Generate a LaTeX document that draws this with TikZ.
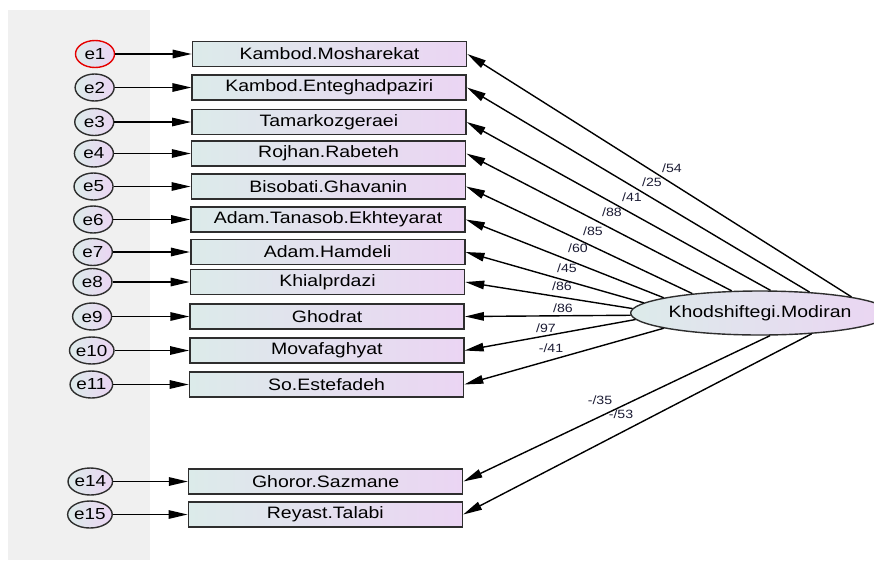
\documentclass[tikz,border=0pt]{standalone}
\usepackage{fontspec}
\setmainfont[FakeStretch=1.18]{Liberation Sans}
\usetikzlibrary{arrows.meta, shapes.geometric}
\definecolor{boxleft}{HTML}{DCEBEA}
\definecolor{boxright}{HTML}{EBD5F3}
\definecolor{panelgray}{HTML}{F0F0F0}
\definecolor{edgegray}{HTML}{2E2E2E}
\definecolor{coefcol}{HTML}{1C1C34}

\begin{document}
\begin{tikzpicture}[
    x=1pt, y=-1pt,
    indbox/.style={draw=edgegray, line width=1.6pt, minimum width=274pt,
                   minimum height=25pt, inner sep=0pt,
                   left color=boxleft, right color=boxright,
                   font=\fontsize{16.5}{18}\selectfont},
    errnode/.style={ellipse, line width=1.4pt, minimum width=39pt,
                    minimum height=27pt, inner sep=0pt,
                    left color=boxleft, right color=boxright,
                    font=\fontsize{16}{17}\selectfont},
    latnode/.style={ellipse, draw=edgegray, line width=1.4pt,
                    minimum width=250pt, minimum height=44pt, inner sep=0pt,
                    left color=boxleft, right color=boxright,
                    font=\fontsize{16.5}{18}\selectfont},
    coef/.style={font=\fontsize{12}{12}\selectfont, text=coefcol, inner sep=0pt},
    conn/.style={-{Triangle[length=19pt, width=8.5pt]}, line width=1.4pt}
  ]

  \useasboundingbox (0,0) rectangle (874,560);

  % ---- gray panel behind the error terms ----
  \fill[panelgray] (8,10) rectangle (150,560);

  % ---- latent variable ----
  \node[latnode] (lat) at (760,313) {Khodshiftegi.Modiran};

  % ---- indicators with their error terms ----
  \foreach \i/\y/\txt in {1/54/Kambod.Mosharekat, 2/87.5/Kambod.Enteghadpaziri,
      3/122/Tamarkozgeraei, 4/153.5/Rojhan.Rabeteh, 5/186.5/Bisobati.Ghavanin,
      6/219.5/Adam.Tanasob.Ekhteyarat, 7/252/Adam.Hamdeli, 8/282/Khialprdazi,
      9/316.5/Ghodrat, 10/350.5/Movafaghyat, 11/384.5/So.Estefadeh,
      14/481.5/Ghoror.Sazmane, 15/514.5/Reyast.Talabi} {
    \pgfmathsetmacro{\bx}{329.5-0.009*(\y-54)}
    \pgfmathsetmacro{\ex}{95-0.011*(\y-54)}
    \ifnum\i=1 \def\ecol{red!90!black}\else\def\ecol{edgegray}\fi
    \node[indbox] (ind\i) at (\bx,\y) {\txt};
    \node[errnode, draw=\ecol] (err\i) at (\ex,\y) {e\i};
    \draw[conn] (err\i) -- (ind\i);
  }

  % ---- loadings: latent -> indicators ----
  \foreach \i/\ang in {1/10.1, 2/23.5, 3/65.5, 4/142.6, 5/164.5, 6/171.8,
      7/175.7, 8/178.2, 9/181, 10/183, 11/189, 14/294.5, 15/338} {
    \draw[conn] (lat.\ang) -- (ind\i.east);
  }

  % ---- coefficient labels ----
  \foreach \i/\lx/\ly/\sgn/\val in {1/672/168/{}/54, 2/652/182/{}/25,
      3/632/197/{}/41, 4/612/212/{}/88, 5/593/231/{}/85, 6/578/248/{}/60,
      7/567/268/{}/45, 8/562/286/{}/86, 9/563/308/{}/86, 10/546/328/{}/97,
      11/551/348/-/41, 14/600/400/-/35, 15/621/414/-/53} {
    \node[coef] (c\i) at (\lx,\ly) {\sgn/\val};
  }

\end{tikzpicture}
\end{document}
